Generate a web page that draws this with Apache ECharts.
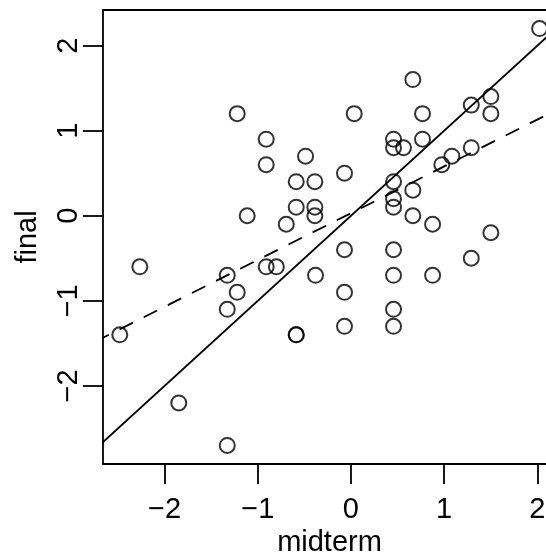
<!DOCTYPE html>
<html>
<head>
<meta charset="utf-8">
<script src="https://cdn.jsdelivr.net/npm/echarts@6/dist/echarts.min.js"></script>
<style>html,body{margin:0;padding:0;background:#fff;}#c{width:546px;height:554px;}</style>
</head>
<body>
<div id="c"></div>
<script>
var midterm = [-1.22,-0.909,-0.909,-0.487,-0.587,-0.387,-0.587,-0.387,-0.387,-1.113,-0.694,
  2.024,0.664,0.035,0.768,1.291,1.501,1.501,0.457,0.457,0.564,0.768,1.291,1.083,0.975,-0.069,0.457,0.664,0.457,0.457,0.664,0.876,1.501,
  -2.265,-1.327,-0.909,-0.80,-0.38,-1.22,-1.327,-2.48,-0.587,-0.587,-1.847,-1.327,
  -0.069,0.457,0.457,0.876,1.291,-0.069,0.457,-0.069,0.457];
var finalScore = [1.2,0.9,0.6,0.7,0.4,0.4,0.1,0.1,0.0,0.0,-0.1,
  2.2,1.6,1.2,1.2,1.3,1.4,1.2,0.9,0.8,0.8,0.9,0.8,0.7,0.6,0.5,0.4,0.3,0.2,0.1,0.0,-0.1,-0.2,
  -0.6,-0.7,-0.6,-0.6,-0.7,-0.9,-1.1,-1.4,-1.4,-1.4,-2.2,-2.7,
  -0.4,-0.4,-0.7,-0.7,-0.5,-0.9,-1.1,-1.3,-1.3];
var identityLine = [[-3, -3], [3, 3]];
var regressionLine = [[-3, -1.62], [3, 1.68]];
var xTicks = [-2, -1, 0, 1, 2];
var yTicks = [-2, -1, 0, 1, 2];

var pts = midterm.map(function (v, i) { return [v, finalScore[i]]; });
var fmt = function (v) { return String(v).replace('-', '\u2212'); };
var font = 'Liberation Sans, Arial, sans-serif';

var chart = echarts.init(document.getElementById('c'));
chart.setOption({
  animation: false,
  backgroundColor: '#fff',
  grid: { left: 103, top: 10, width: 453, height: 454, show: true, outerBoundsMode: 'none', containLabel: false,
    borderColor: '#000', borderWidth: 1.8, backgroundColor: 'transparent' },
  xAxis: {
    type: 'value', min: -2.66, max: 2.2,
    name: 'midterm', nameLocation: 'middle', nameGap: 64,
    nameTextStyle: { fontFamily: font, fontSize: 29, color: '#000' },
    axisLine: { show: false, onZero: false },
    splitLine: { show: false },
    axisTick: { show: true, inside: false, length: 20, customValues: xTicks, lineStyle: { color: '#000', width: 1.8 } },
    axisLabel: { customValues: xTicks, formatter: fmt, margin: 31, fontFamily: font, fontSize: 29, color: '#000' }
  },
  yAxis: {
    type: 'value', min: -2.918, max: 2.418,
    name: 'final', nameLocation: 'middle', nameGap: 61, nameRotate: 90,
    nameTextStyle: { fontFamily: font, fontSize: 29, color: '#000' },
    axisLine: { show: false, onZero: false },
    splitLine: { show: false },
    axisTick: { show: true, inside: false, length: 20, customValues: yTicks, lineStyle: { color: '#000', width: 1.8 } },
    axisLabel: { customValues: yTicks, formatter: fmt, rotate: 90, margin: 20, fontFamily: font, fontSize: 29, color: '#000' }
  },
  series: [
    { type: 'scatter', data: pts, symbol: 'circle', symbolSize: 15,
      itemStyle: { color: 'rgba(0,0,0,0)', borderColor: '#000', borderWidth: 2 }, z: 3 },
    { type: 'line', data: identityLine, showSymbol: false, symbol: 'none', clip: true,
      lineStyle: { color: '#000', width: 1.8, type: 'solid' }, z: 2 },
    { type: 'line', data: regressionLine, showSymbol: false, symbol: 'none', clip: true,
      lineStyle: { color: '#000', width: 1.8, type: [15, 12] }, z: 2 }
  ]
});
</script>
</body>
</html>
